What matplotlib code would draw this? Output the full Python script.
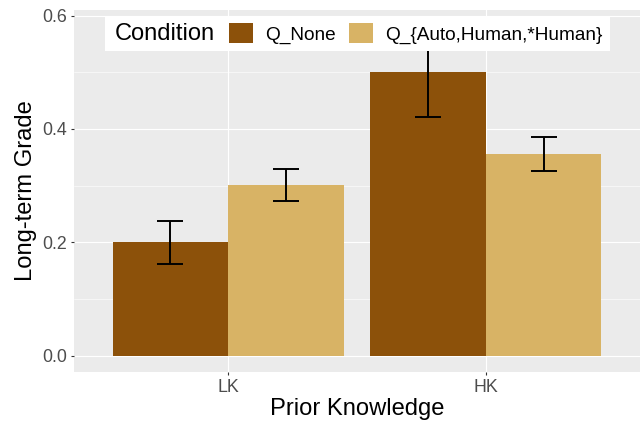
import matplotlib
matplotlib.use('Agg')
import matplotlib.pyplot as plt
from matplotlib.offsetbox import HPacker, DrawingArea
import numpy as np

categories = ['LK', 'HK']
series = ['Q_None', 'Q_{Auto,Human,*Human}']
means_none = [0.200, 0.501]
means_auto = [0.301, 0.356]
err_none = [0.038, 0.080]
err_auto = [0.028, 0.030]
colors = ['#8C510A', '#D8B365']
yticks = [0.0, 0.2, 0.4, 0.6]
yminor = [0.1, 0.3, 0.5]

plt.rcParams['font.family'] = ['Liberation Sans', 'DejaVu Sans']

W, H = 640, 424
fig = plt.figure(figsize=(6.4, 4.24), dpi=100)
ax = fig.add_axes([74 / W, (H - 372) / H, (640 - 74) / W, (372 - 10) / H])
ax.set_facecolor('#EBEBEB')

x = np.arange(len(categories))
width = 0.45
all_means = [means_none, means_auto]
all_errs = [err_none, err_auto]
for i, s in enumerate(series):
    xs = x + (i - 0.5) * width
    ax.bar(xs, all_means[i], width=width, color=colors[i], label=s, zorder=2)
    ax.errorbar(xs, all_means[i], yerr=all_errs[i], fmt='none', ecolor='black',
                elinewidth=1.4, capsize=9.4, capthick=1.4, zorder=3)

ax.set_xlim(-0.6, 1.6)
ax.set_ylim(-0.029, 0.61)
ax.set_xticks(x)
ax.set_xticklabels(categories)
ax.set_yticks(yticks)
ax.set_yticklabels([f'{v:.1f}' for v in yticks])
ax.set_yticks(yminor, minor=True)
ax.set_axisbelow(True)
ax.grid(which='major', color='white', linewidth=0.8)
ax.grid(which='minor', axis='y', color='white', linewidth=0.4)
for sp in ax.spines.values():
    sp.set_visible(False)
ax.tick_params(which='major', length=2.2, width=0.8, color='#333333',
               labelcolor='#4D4D4D', labelsize=12.8, pad=2.8)
ax.tick_params(which='minor', length=0)

ax.set_xlabel('Prior Knowledge', fontsize=17.1, labelpad=1.5, color='black')
ax.set_ylabel('Long-term Grade', fontsize=17.1, labelpad=3.5, color='black')

lab_fs = 13.7
fs_px = lab_fs * 100 / 72
leg = ax.legend(title='Condition', ncol=2, loc='upper left',
                bbox_to_anchor=(105 / W, (H - 16) / H), bbox_transform=fig.transFigure,
                borderaxespad=0, frameon=True, fancybox=False, framealpha=1,
                edgecolor='none', facecolor='white', fontsize=lab_fs, title_fontsize=17.0,
                handlelength=24 / fs_px, handleheight=24 / fs_px, handletextpad=12 / fs_px,
                columnspacing=14 / fs_px, borderpad=0.4)
leg.get_frame().set_linewidth(0)
leg.set_zorder(10)

# put the legend title to the left of the keys (ggplot style)
title_box, handle_box = leg._legend_box.get_children()
inner = HPacker(pad=0, sep=14 * 0.72, align='center', children=[title_box, handle_box])
outer = HPacker(pad=6.5 * 0.72, sep=0, align='center',
                children=[DrawingArea(3 * 0.72, 1), inner, DrawingArea(1 * 0.72, 1)])
outer.set_figure(fig)
outer.axes = ax
leg._legend_box = outer
outer.set_offset(leg._findoffset)

fig.savefig('out.png', dpi=100)
